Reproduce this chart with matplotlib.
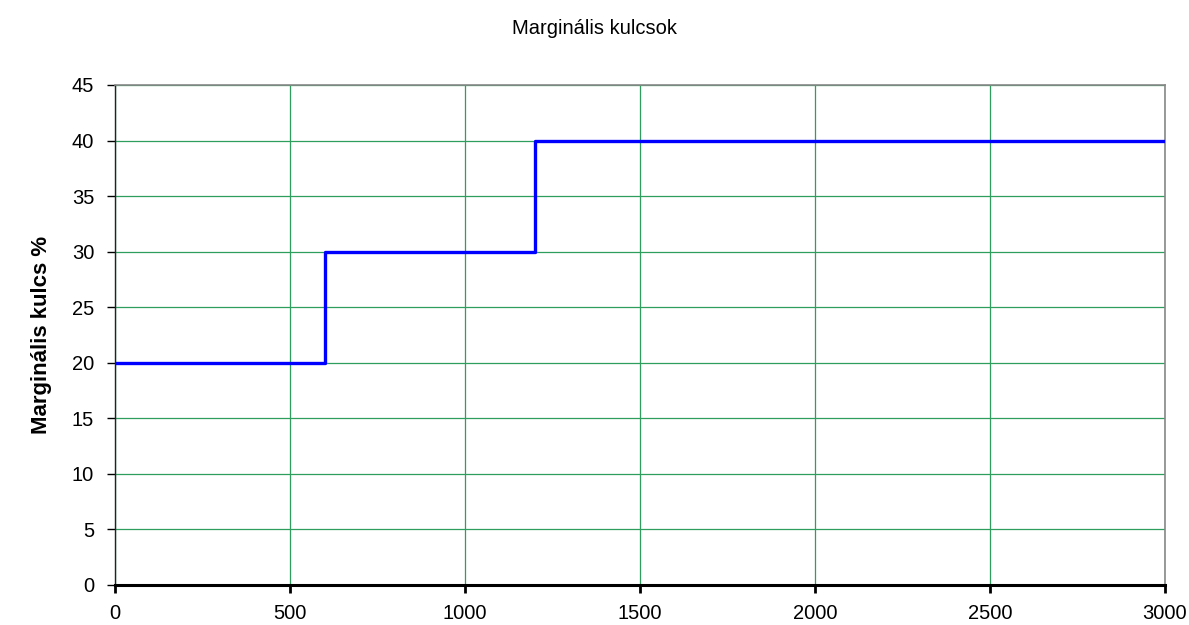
import matplotlib.pyplot as plt

# income thresholds and marginal rates (step function)
income = [0, 600, 1200, 3000]
rate = [20, 30, 40, 40]

plt.rcParams['font.family'] = ['Liberation Sans', 'DejaVu Sans']

fig = plt.figure(figsize=(11.89, 6.25), dpi=100)
ax = fig.add_axes([115 / 1189, 40 / 625, 1050 / 1189, 500 / 625])

ax.plot(income, rate, drawstyle='steps-post', color='#0000ff', linewidth=2.4, zorder=3)

ax.set_xlim(0, 3000)
ax.set_ylim(0, 45)
ax.set_xticks(range(0, 3001, 500))
ax.set_yticks(range(0, 46, 5))
ax.grid(True, color='#2e9e5e', linewidth=0.9)
ax.set_axisbelow(True)

for side in ['top', 'right']:
    ax.spines[side].set_color('#888888')
    ax.spines[side].set_linewidth(1.2)
ax.spines['left'].set_color('#222222')
ax.spines['left'].set_linewidth(1.0)
ax.spines['bottom'].set_color('black')
ax.spines['bottom'].set_linewidth(2.2)

ax.tick_params(axis='x', direction='out', length=6, width=2, labelsize=14.5, pad=8)
ax.tick_params(axis='y', direction='out', length=6, width=1, labelsize=14.5, pad=9)

ax.set_ylabel('Marginális kulcs %', fontsize=16, fontweight='bold', labelpad=14)
fig.text(0.5, 1 - 28 / 625, 'Marginális kulcsok', ha='center', va='center', fontsize=14.5)

fig.savefig('out.png', dpi=100)
